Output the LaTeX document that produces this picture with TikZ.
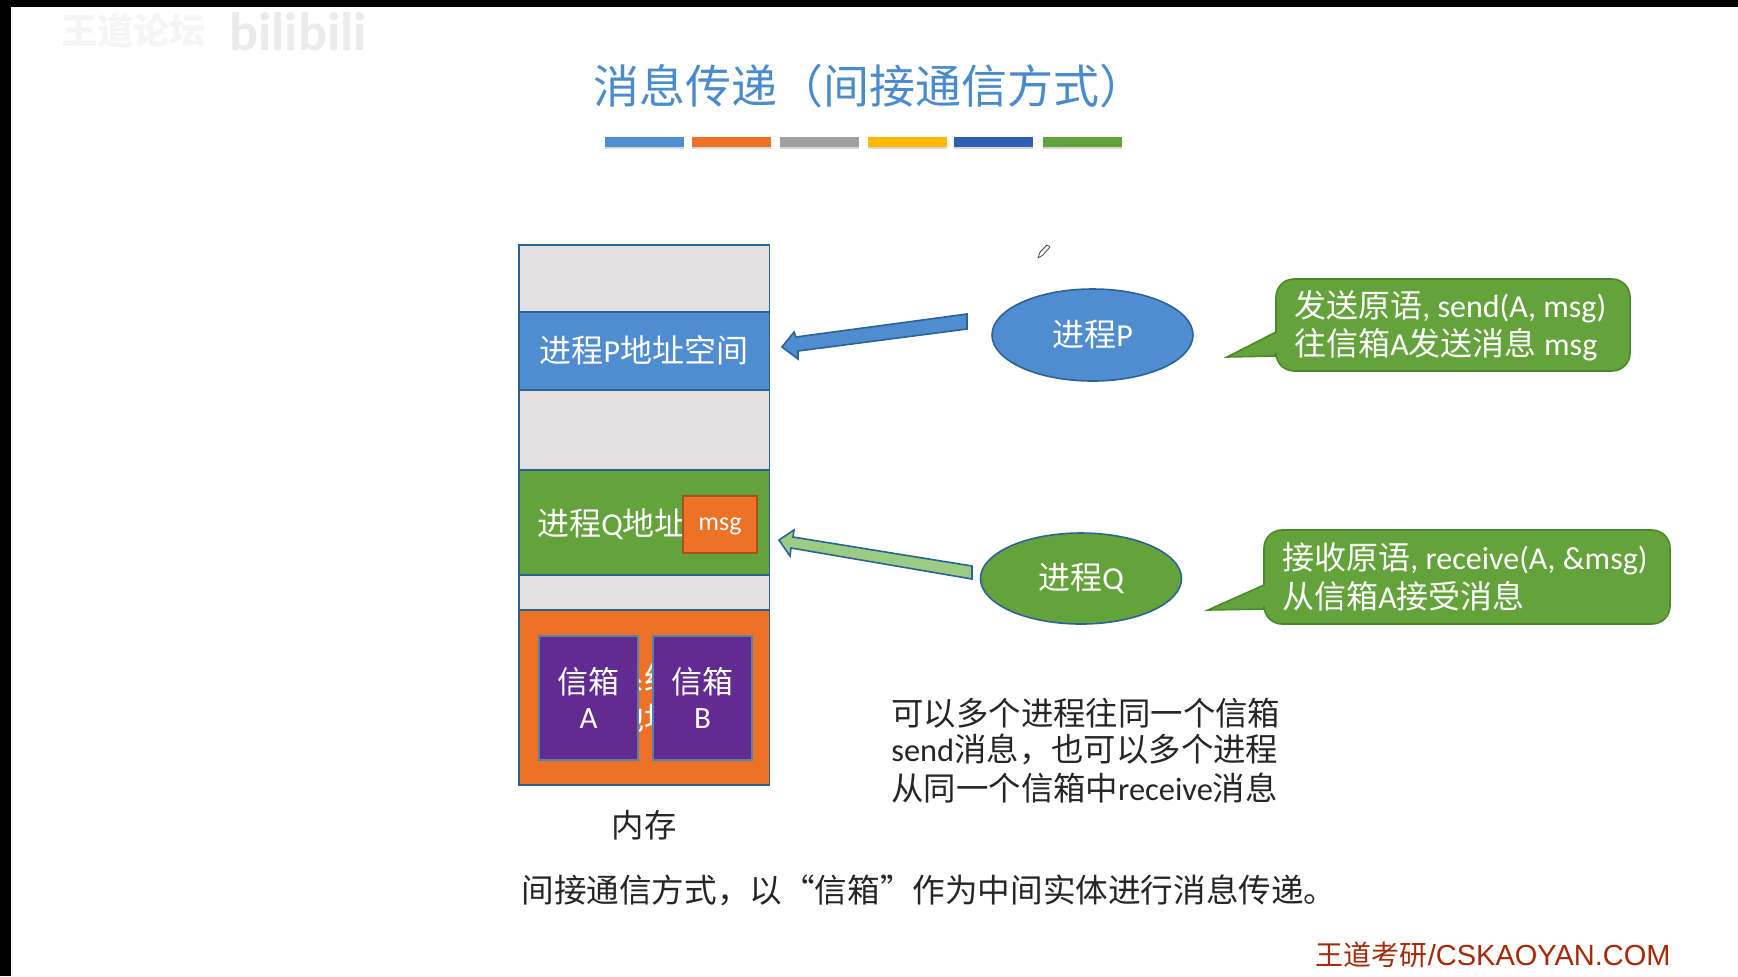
\documentclass[tikz,border=0pt]{standalone}
\usepackage{fontspec}
\setmainfont{Carlito}
\newfontfamily\cjk{Noto Sans CJK SC}
\newfontfamily\arialish{Liberation Sans}
\newcommand{\cj}[1]{{\cjk #1}}
\usetikzlibrary{shapes.geometric,shadows}
\definecolor{pblue}{HTML}{4F8DD0}
\definecolor{pgreen}{HTML}{64A33C}
\definecolor{porange}{HTML}{EE7226}
\definecolor{ppurple}{HTML}{622B92}
\definecolor{edgeblue}{HTML}{2A6496}
\definecolor{memgrey}{HTML}{E2E0E0}
\definecolor{dkgreen}{HTML}{4B8A2A}
\definecolor{lgreen}{HTML}{9CCB84}
\definecolor{titleblue}{HTML}{4A8CCB}
\definecolor{bargrey}{HTML}{A0A0A0}
\definecolor{baryellow}{HTML}{FFB900}
\definecolor{bardark}{HTML}{2F5FB0}
\definecolor{brandred}{HTML}{A52A08}
\tikzset{
 px/.style={x=0.5pt,y=-0.5pt},
 band/.style={draw=edgeblue,line width=0.8pt,anchor=north west,inner sep=0pt,outer sep=0pt,text=white,align=center},
 proc/.style={ellipse,draw=edgeblue,line width=0.8pt,inner sep=0pt,text=white,font=\fontsize{16}{18}\selectfont},
 bubbletext/.style={text=white,align=left,anchor=west,inner sep=0pt,font=\fontsize{16}{18}\selectfont},
 plain/.style={text=black!85,inner sep=0pt,font=\fontsize{16.2}{18}\selectfont},
 mailbox/.style={band,fill=ppurple,draw=edgeblue!80,font=\fontsize{15.5}{17.5}\selectfont},
 colorbar/.style={anchor=north west,inner sep=0pt,minimum height=5pt,minimum width=39.5pt,drop shadow={shadow xshift=0pt,shadow yshift=-1pt,opacity=0.3}},
 bubble/.style={fill=pgreen,draw=dkgreen,line width=0.8pt,line join=miter},
 blockarrow/.style={draw=edgeblue,line width=0.8pt,line join=miter}
}
\begin{document}
\begin{tikzpicture}[px]
\useasboundingbox (0,0) rectangle (1738,976);
\fill[white] (0,0) rectangle (1738,976);
\fill[black] (0,0) rectangle (1738,7);
\fill[black] (0,0) rectangle (11,976);
% watermark
\node[text=black!4,font=\cjk\fontsize{18}{18}\selectfont\bfseries,inner sep=0pt] (wm) at (133,31) {王道论坛};
\node[text=black!8,font=\fontsize{27}{27}\selectfont\bfseries,inner sep=0pt] (wm2) at (298,32) {bilibili};
% title
\node[text=titleblue,font=\cjk\fontsize{23}{24}\selectfont,inner sep=0pt,anchor=west] (title) at (593,86) {消息传递（间接通信方式）};
\node[colorbar,fill=pblue] (b1) at (605,137) {};
\node[colorbar,fill=porange] (b2) at (692,137) {};
\node[colorbar,fill=bargrey] (b3) at (780,137) {};
\node[colorbar,fill=baryellow] (b4) at (868,137) {};
\node[colorbar,fill=bardark] (b5) at (954,137) {};
\node[colorbar,fill=pgreen] (b6) at (1043,137) {};
% memory
\node[band,fill=memgrey,minimum width=125.25pt,minimum height=33.5pt] (m1) at (519,245) {};
\node[band,fill=pblue,minimum width=125.25pt,minimum height=39pt] (mp) at (519,312) {};
\node[text=white,inner sep=0pt,font=\fontsize{16}{18}\selectfont] (mpt) at (644,350) {\cj{进程}P\cj{地址空间}};
\node[band,fill=memgrey,minimum width=125.25pt,minimum height=40pt] (m2) at (519,390) {};
\node[band,fill=pgreen,minimum width=125.25pt,minimum height=52.5pt] (mq) at (519,470) {};
\node[text=white,inner sep=0pt,anchor=west,font=\fontsize{16}{18}\selectfont] (mqt) at (537,524) {\cj{进程}Q\cj{地址空间}};
\node[band,fill=memgrey,minimum width=125.25pt,minimum height=17.5pt] (m3) at (519,575) {};
\node[band,fill=porange,minimum width=125.25pt,minimum height=87.5pt,font=\fontsize{16}{19}\selectfont] (ms) at (519,610) {\cj{系统}\\[1pt]\cj{地址}};
\node[band,fill=porange,draw=porange!70!black,minimum width=37pt,minimum height=28.5pt] (msgbox) at (683,496) {};
\node[text=white,inner sep=0pt,anchor=base,font=\fontsize{13}{14}\selectfont] (msg) at (720,530) {msg};
\node[mailbox,minimum width=49.5pt,minimum height=62pt] (ma) at (539,636) {\cj{信箱}\\A};
\node[mailbox,minimum width=49.5pt,minimum height=62pt] (mb) at (653,636) {\cj{信箱}\\B};
\node[plain] (nc) at (644,825) {\cj{内存}};
% processes
\node[proc,fill=pblue,minimum width=100.5pt,minimum height=46pt] (P) at (1092.5,335) {\cj{进程}P};
\node[proc,fill=pgreen,minimum width=100.5pt,minimum height=45.5pt] (Q) at (1081,578.5) {\cj{进程}Q};
% arrows
\draw[blockarrow,fill=pblue] (967,314) -- (796,337) -- (794,332) -- (782,347) -- (798,359) -- (798,351) -- (967,329) -- cycle;
\draw[blockarrow,fill=lgreen] (972,566) -- (793,537) -- (794,530) -- (779,540) -- (790,556) -- (791,548) -- (972,579) -- cycle;
% bubbles
\draw[bubble] (1227,357) -- (1276,332) [rounded corners=9pt] -- (1276,279) -- (1630,279) -- (1630,371) -- (1276,371) [sharp corners] -- (1276,356) -- cycle;
\draw[bubble] (1208,610) -- (1264,585) [rounded corners=9pt] -- (1264,530) -- (1670,530) -- (1670,624) -- (1264,624) [sharp corners] -- (1264,609) -- cycle;
\node[bubbletext] (bp1) at (1294,307) {\cj{发送原语}, send(A, msg)};
\node[bubbletext] (bp2) at (1294,345) {\cj{往信箱}A\cj{发送消息} msg};
\node[bubbletext] (bq1) at (1282,559) {\cj{接收原语}, receive(A, \&msg)};
\node[bubbletext] (bq2) at (1282,596) {\cj{从信箱}A\cj{接受消息}};
% notes
\node[plain,anchor=west] (n1) at (891,713) {\cj{可以多个进程往同一个信箱}};
\node[plain,anchor=west] (n2) at (891,749) {send\cj{消息，也可以多个进程}};
\node[plain,anchor=west] (n3) at (891,788) {\cj{从同一个信箱中}receive\cj{消息}};
\node[plain,anchor=west,font=\fontsize{16.3}{18}\selectfont] (n4) at (521,890) {\cj{间接通信方式，以“信箱”作为中间实体进行消息传递。}};
\node[text=brandred,font=\arialish\fontsize{14.5}{16}\selectfont,anchor=east,inner sep=0pt] (brand) at (1671,955) {{\cjk\fontsize{14}{16}\selectfont 王道考研}/CSKAOYAN.COM};
% pencil
\draw[black!70,line width=0.4pt,fill=white,line join=round] (1038,258) -- (1040,252) -- (1047,245) -- (1050,247) -- (1043,255) -- cycle;
\end{tikzpicture}
\end{document}
